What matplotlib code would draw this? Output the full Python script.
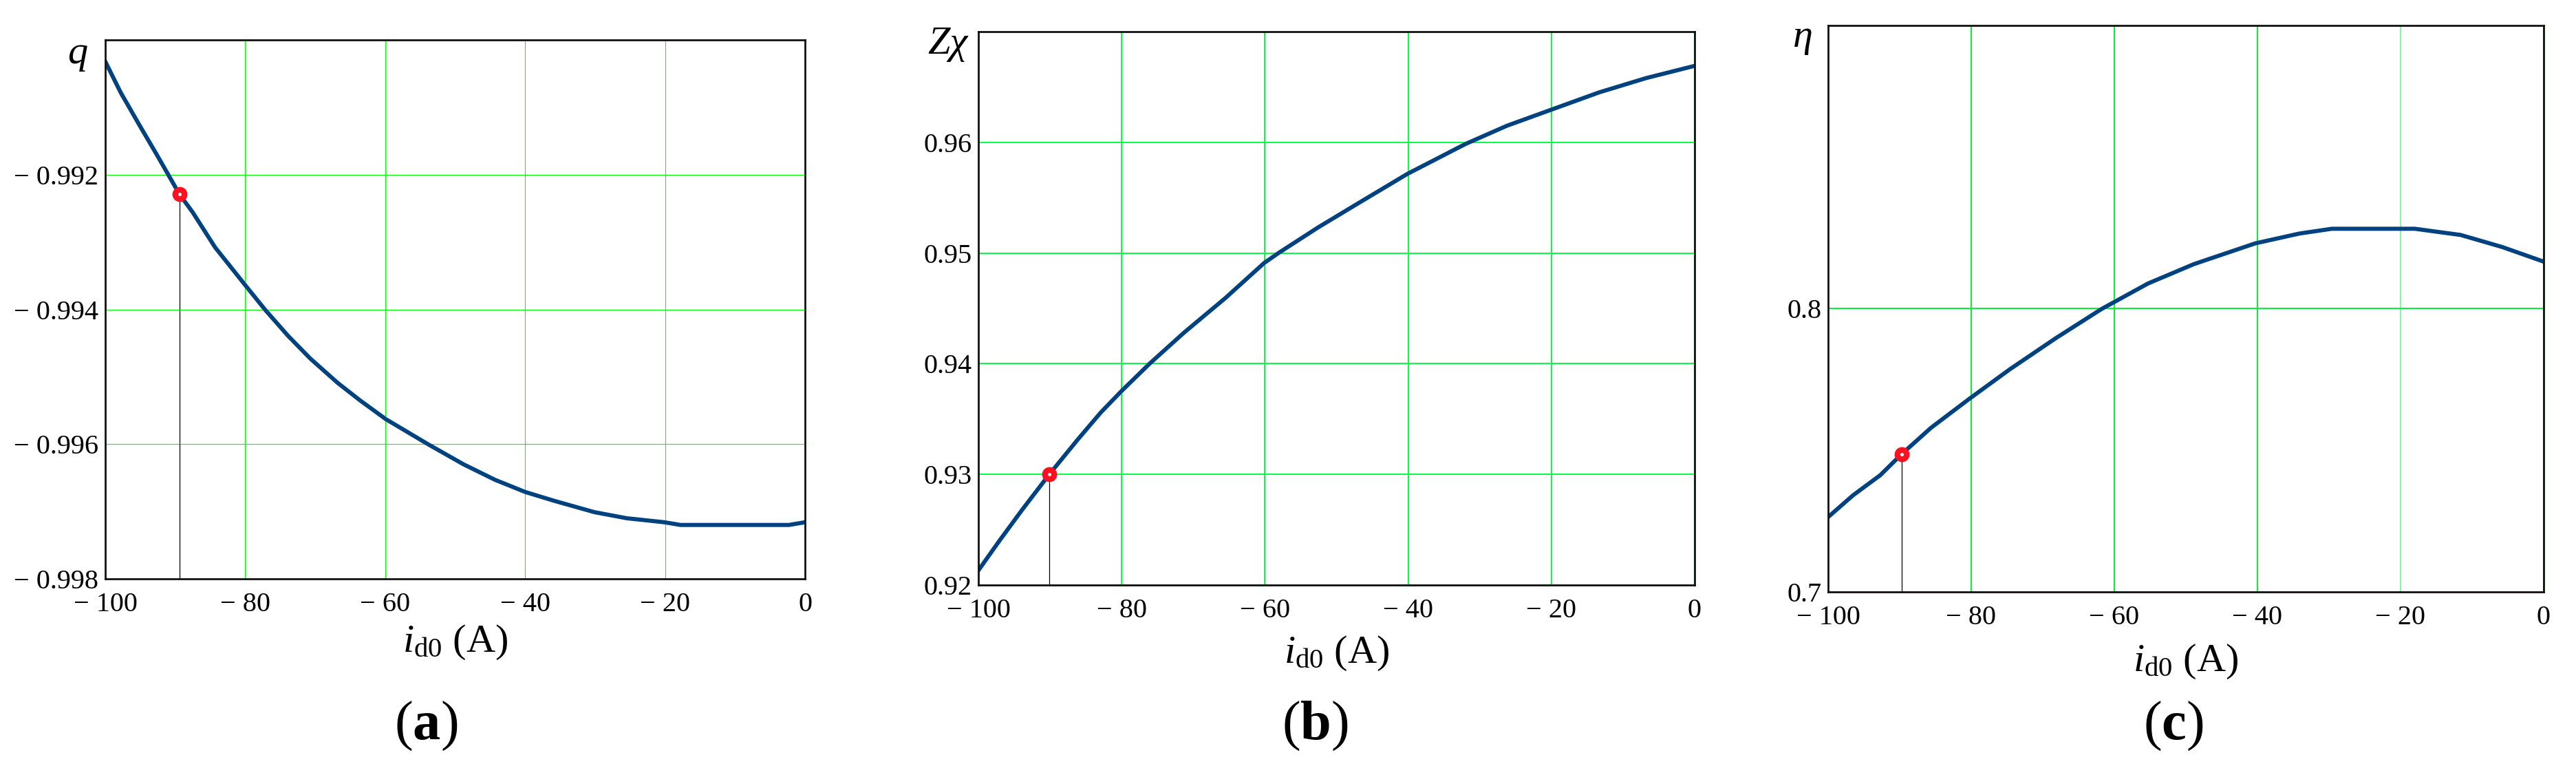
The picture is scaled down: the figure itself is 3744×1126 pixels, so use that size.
import matplotlib.pyplot as plt

plt.rcParams['font.family'] = ['Liberation Serif', 'DejaVu Serif']
plt.rcParams['mathtext.fontset'] = 'custom'
plt.rcParams['mathtext.rm'] = 'Liberation Serif'
plt.rcParams['mathtext.it'] = 'Liberation Serif:italic'
plt.rcParams['mathtext.bf'] = 'Liberation Serif:bold'

# values
q_x = [-100, -97.8, -95.2, -92.6, -91.0, -89.4, -87.5, -84.3, -80.0, -77.2,
       -73.9, -70.7, -66.8, -63.6, -59.9, -53.9, -48.8, -44.3, -40.0, -35.9,
       -30.1, -25.5, -20.1, -17.8, -2.3, 0]
q_y = [-0.99032, -0.99078, -0.99125, -0.99171, -0.99200, -0.99229, -0.99256,
       -0.99308, -0.99364, -0.99400, -0.99439, -0.99473, -0.99509, -0.99535,
       -0.99563, -0.99600, -0.99630, -0.99653, -0.99671, -0.99684, -0.99701,
       -0.99710, -0.99716, -0.99720, -0.99720, -0.99716]
q_mark = (-89.4, -0.99229)

z_x = [-100, -97.1, -93.9, -90.1, -86.1, -82.9, -80.0, -76.1, -71.3, -65.5,
       -60.1, -58.1, -52.6, -46.8, -40.1, -32.0, -26.2, -20.1, -13.3, -6.8, 0]
z_y = [0.92132, 0.92397, 0.92679, 0.93000, 0.93317, 0.93560, 0.93754, 0.94000,
       0.94280, 0.94594, 0.94910, 0.95000, 0.95230, 0.95456, 0.95715, 0.95985,
       0.96150, 0.96293, 0.96452, 0.96580, 0.96691]
z_mark = (-90.1, 0.9300)

eta_x = [-100, -96.5, -92.7, -89.7, -85.6, -80.2, -74.6, -68.2, -61.8, -55.3,
         -48.9, -40.3, -34.1, -29.6, -18.0, -11.6, -5.8, 0]
eta_y = [0.72642, 0.73415, 0.74124, 0.74871, 0.75799, 0.76830, 0.77861, 0.78956,
         0.79987, 0.80889, 0.81572, 0.82307, 0.82655, 0.82822, 0.82822, 0.82603,
         0.82178, 0.81662]
eta_mark = (-89.7, 0.7487)

x_ticks = [-100, -80, -60, -40, -20, 0]
x_tick_labels = ['\u2212 100', '\u2212 80', '\u2212 60', '\u2212 40', '\u2212 20', '0']

q_ticks = [-0.998, -0.996, -0.994, -0.992, -0.990]
q_tick_labels = ['\u2212 0.998', '\u2212 0.996', '\u2212 0.994', '\u2212 0.992', '']
z_ticks = [0.92, 0.93, 0.94, 0.95, 0.96, 0.97]
z_tick_labels = ['0.92', '0.93', '0.94', '0.95', '0.96', '']
eta_ticks = [0.7, 0.8, 0.9]
eta_tick_labels = ['0.7', '0.8', '']

W, H = 3744, 1126
fig = plt.figure(figsize=(W / 100, H / 100), dpi=100)


def box(l, t, r, b):
    return [l / W, 1 - b / H, (r - l) / W, (b - t) / H]


panels = [
    dict(rect=box(153, 58, 1170, 841), x=q_x, y=q_y, mark=q_mark,
         yt=q_ticks, ytl=q_tick_labels, ylab='q', ylab_xy=(113, 78),
         xlab_y=933, tag='a', tag_x=619, grid='#00ff00', glw=0.8),
    dict(rect=box(1422, 46, 2463, 850), x=z_x, y=z_y, mark=z_mark,
         yt=z_ticks, ytl=z_tick_labels, ylab='Z\u03c7', ylab_xy=(1377, 64),
         xlab_y=949, tag='b', tag_x=1911, grid='#00ff40', glw=1.4),
    dict(rect=box(2657, 37, 3697, 860), x=eta_x, y=eta_y, mark=eta_mark,
         yt=eta_ticks, ytl=eta_tick_labels, ylab='\u03b7', ylab_xy=(2620, 54),
         xlab_y=961, tag='c', tag_x=3159, grid='#00f030', glw=1.4),
]

axes = []
for p in panels:
    ax = fig.add_axes(p['rect'])
    axes.append(ax)
    ax.set_xlim(-100, 0)
    ax.set_ylim(p['yt'][0], p['yt'][-1])
    ax.set_xticks(x_ticks)
    ax.set_xticklabels(x_tick_labels)
    ax.set_yticks(p['yt'])
    ax.set_yticklabels(p['ytl'])
    ax.tick_params(length=0, labelsize=29)
    ax.tick_params(axis='x', pad=14)
    ax.tick_params(axis='y', pad=7)
    ax.grid(True, color=p['grid'], lw=p['glw'])
    ax.set_axisbelow(True)
    for s in ax.spines.values():
        s.set_linewidth(2.0)
        s.set_color('#111111')
        s.set_zorder(5)

    ax.plot(p['x'], p['y'], color='#00427f', lw=4.3, zorder=3)
    mx, my = p['mark']
    ax.plot([mx, mx], [ax.get_ylim()[0], my], color='black', lw=0.9, zorder=3)
    ax.plot(mx, my, 'o', ms=9.7, mew=6.0, mfc='white', mec='#ff1020', zorder=4)

    cx = (p['rect'][0] + p['rect'][2] / 2)
    fig.text(cx, 1 - p['xlab_y'] / H, r'$i_{\mathrm{d0}}$ (A)', fontsize=42,
             ha='center', va='center')
    fig.text(p['ylab_xy'][0] / W, 1 - p['ylab_xy'][1] / H, p['ylab'],
             fontsize=42, style='italic', ha='center', va='center')
    fig.text(p['tag_x'] / W, 1 - 1055 / H, '(' + r'$\mathbf{' + p['tag'] + '}$' + ')',
             fontsize=58, ha='center', va='center')

# the -20 grid line in (c) is drawn lighter
axes[2].get_xgridlines()[4].set_color('#80f8a8')

fig.savefig('out.png', dpi=100)
